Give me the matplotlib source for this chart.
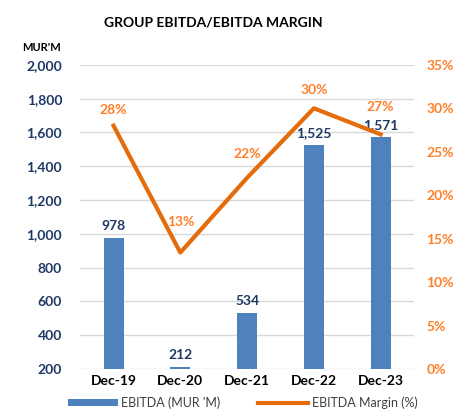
import matplotlib.pyplot as plt
from matplotlib.lines import Line2D
from matplotlib.patches import Patch

# data
categories = ["Dec-19", "Dec-20", "Dec-21", "Dec-22", "Dec-23"]
ebitda = [978, 212, 534, 1525, 1571]
margin = [28, 13.4, 22, 30, 27]
margin_labels = ["28%", "13%", "22%", "30%", "27%"]

BLUE = "#4F81BD"
DARK_BLUE = "#1F3864"
LINE_ORANGE = "#E46C0A"
TXT_ORANGE = "#FF7F27"

plt.rcParams["font.family"] = ["Lato", "DejaVu Sans"]

fig = plt.figure(figsize=(4.58, 4.13), dpi=100)
ax = fig.add_axes([0.175, 0.1065, 0.729, 0.7365])
x = list(range(len(categories)))

# bars
ax.bar(x, [v - 200 for v in ebitda], bottom=200, width=0.3, color=BLUE, zorder=2)
ax.set_ylim(200, 2000)
ax.set_xlim(-0.5, 4.5)
ax.set_yticks(range(200, 2001, 200))
ax.set_yticklabels([f"{v:,}" for v in range(200, 2001, 200)],
                   fontsize=10, fontweight="bold", color=DARK_BLUE)
ax.set_xticks(x)
ax.set_xticklabels(categories, fontsize=10, fontweight="bold", color="black")
ax.tick_params(axis="y", length=0, pad=13)
ax.tick_params(axis="x", length=0, pad=4)
ax.grid(axis="y", color="#D9D9D9", linewidth=1, zorder=0)
for s in ax.spines.values():
    s.set_visible(False)

for xi, v in zip(x, ebitda):
    ax.text(xi, v + 35, f"{v:,}", ha="center", va="bottom", fontsize=10,
            fontweight="bold", color=DARK_BLUE, zorder=5)

# margin line
ax2 = ax.twinx()
ax2.plot(x, margin, color=LINE_ORANGE, linewidth=3, zorder=3)
ax2.set_ylim(0, 35)
ax2.set_yticks(range(0, 36, 5))
ax2.set_yticklabels([f"{v}%" for v in range(0, 36, 5)],
                    fontsize=10, fontweight="bold", color=TXT_ORANGE)
ax2.tick_params(length=0, pad=9)
for s in ax2.spines.values():
    s.set_visible(False)

offsets = [1.1, 2.8, 2.0, 1.4, 2.5]
for xi, v, lab, off in zip(x, margin, margin_labels, offsets):
    ax2.text(xi, v + off, lab, ha="center", va="bottom", fontsize=10,
             fontweight="bold", color=TXT_ORANGE, zorder=6)

# titles
fig.text(0.465, 0.945, "GROUP EBITDA/EBITDA MARGIN", ha="center", va="center",
         fontsize=10, fontweight="bold", color="black")
fig.text(0.09, 0.885, "MUR'M", ha="center", va="center",
         fontsize=8, fontweight="bold", color="black")

# legend
handles = [Patch(facecolor=BLUE, edgecolor="none"),
           Line2D([0], [0], color=LINE_ORANGE, linewidth=3)]
fig.legend(handles, ["EBITDA (MUR 'M)", "EBITDA Margin (%)"],
           loc="center", bbox_to_anchor=(0.53, 0.025), ncol=2, frameon=False,
           fontsize=9, handlelength=4, handleheight=0.5, columnspacing=3,
           handletextpad=0.3, labelcolor="#404040")

fig.savefig("out.png", dpi=100)
